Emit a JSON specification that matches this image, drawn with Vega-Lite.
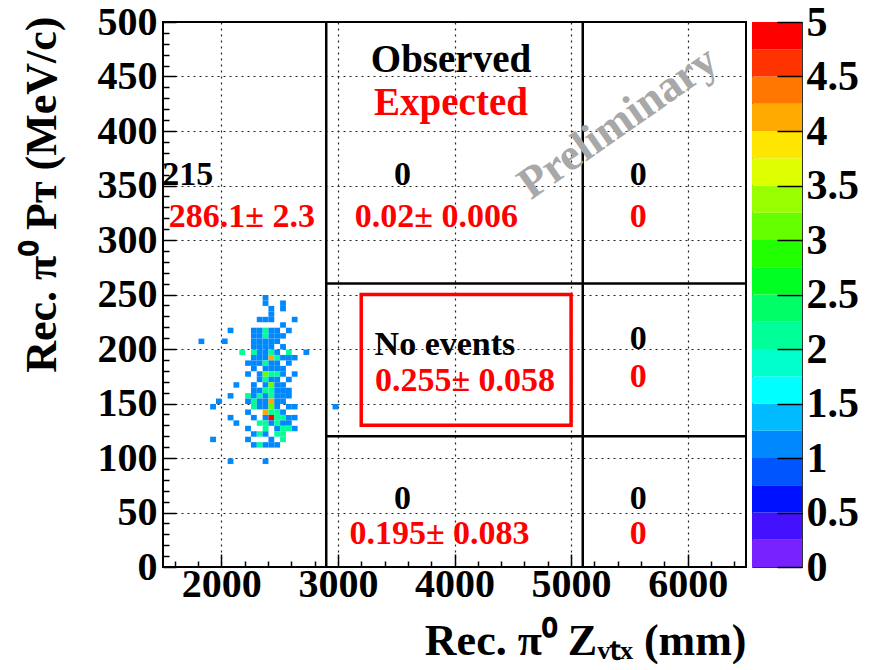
{
  "$schema": "https://vega.github.io/schema/vega-lite/v6.json",
  "padding": {"left": 18, "top": 0, "right": 5, "bottom": 0},
  "spacing": 2,
  "background": "white",
  "config": {
    "font": "Liberation Serif",
    "view": {"stroke": null},
    "axis": {
      "labelFont": "Liberation Serif",
      "labelFontWeight": "bold",
      "labelColor": "black",
      "titleFont": "Liberation Serif",
      "titleFontWeight": "bold",
      "titleColor": "black",
      "domainColor": "black",
      "tickColor": "#000000",
      "tickOpacity": 1,
      "labelOverlap": false,
      "labelFlush": false
    }
  },
  "datasets": {
    "cells": [
      {"x":2350,"y":245,"n":1},
      {"x":2350,"y":240,"n":1},{"x":2500,"y":240,"n":1},
      {"x":2400,"y":235,"n":1},{"x":2500,"y":235,"n":1},
      {"x":2400,"y":230,"n":1},
      {"x":2300,"y":225,"n":1},{"x":2350,"y":225,"n":1},{"x":2400,"y":225,"n":1},{"x":2600,"y":225,"n":1},
      {"x":2500,"y":220,"n":1},
      {"x":2050,"y":215,"n":1},{"x":2250,"y":215,"n":1},{"x":2300,"y":215,"n":1},{"x":2350,"y":215,"n":2},{"x":2400,"y":215,"n":1},{"x":2450,"y":215,"n":1},{"x":2550,"y":215,"n":1},
      {"x":2250,"y":210,"n":1},{"x":2300,"y":210,"n":1},{"x":2350,"y":210,"n":2},{"x":2400,"y":210,"n":1},{"x":2450,"y":210,"n":1},{"x":2500,"y":210,"n":1},
      {"x":1800,"y":205,"n":1},{"x":2000,"y":205,"n":1},{"x":2250,"y":205,"n":1},{"x":2300,"y":205,"n":1},{"x":2350,"y":205,"n":1},{"x":2400,"y":205,"n":1},{"x":2450,"y":205,"n":1},
      {"x":2250,"y":200,"n":1},{"x":2300,"y":200,"n":1},{"x":2350,"y":200,"n":1},{"x":2400,"y":200,"n":1},{"x":2500,"y":200,"n":1},
      {"x":2150,"y":195,"n":2},{"x":2250,"y":195,"n":2},{"x":2300,"y":195,"n":1},{"x":2350,"y":195,"n":1},{"x":2400,"y":195,"n":2},{"x":2450,"y":195,"n":1},{"x":2550,"y":195,"n":2},{"x":2700,"y":195,"n":1},
      {"x":2250,"y":190,"n":1},{"x":2300,"y":190,"n":1},{"x":2350,"y":190,"n":1},{"x":2400,"y":190,"n":4},{"x":2450,"y":190,"n":2},{"x":2500,"y":190,"n":1},{"x":2550,"y":190,"n":1},{"x":2600,"y":190,"n":1},
      {"x":2200,"y":185,"n":1},{"x":2250,"y":185,"n":1},{"x":2300,"y":185,"n":1},{"x":2350,"y":185,"n":2},{"x":2400,"y":185,"n":1},{"x":2450,"y":185,"n":1},{"x":2550,"y":185,"n":1},
      {"x":2250,"y":180,"n":1},{"x":2350,"y":180,"n":1},{"x":2400,"y":180,"n":1},{"x":2450,"y":180,"n":1},{"x":2500,"y":180,"n":1},
      {"x":2200,"y":175,"n":1},{"x":2300,"y":175,"n":1},{"x":2350,"y":175,"n":3},{"x":2400,"y":175,"n":2},{"x":2450,"y":175,"n":2},{"x":2500,"y":175,"n":1},{"x":2600,"y":175,"n":1},
      {"x":2300,"y":170,"n":1},{"x":2350,"y":170,"n":2},{"x":2400,"y":170,"n":1},{"x":2450,"y":170,"n":1},{"x":2550,"y":170,"n":1},
      {"x":2100,"y":165,"n":1},{"x":2250,"y":165,"n":1},{"x":2350,"y":165,"n":1},{"x":2400,"y":165,"n":3},{"x":2450,"y":165,"n":1},{"x":2500,"y":165,"n":1},
      {"x":2250,"y":160,"n":1},{"x":2300,"y":160,"n":1},{"x":2350,"y":160,"n":2},{"x":2400,"y":160,"n":2},{"x":2450,"y":160,"n":1},{"x":2500,"y":160,"n":1},{"x":2550,"y":160,"n":1},
      {"x":2050,"y":155,"n":1},{"x":2200,"y":155,"n":2},{"x":2250,"y":155,"n":1},{"x":2300,"y":155,"n":2},{"x":2350,"y":155,"n":1},{"x":2400,"y":155,"n":2},{"x":2450,"y":155,"n":1},{"x":2500,"y":155,"n":1},{"x":2550,"y":155,"n":1},
      {"x":1950,"y":150,"n":1},{"x":2200,"y":150,"n":1},{"x":2250,"y":150,"n":2},{"x":2300,"y":150,"n":1},{"x":2350,"y":150,"n":1},{"x":2400,"y":150,"n":4},{"x":2450,"y":150,"n":1},{"x":2500,"y":150,"n":1},
      {"x":1900,"y":145,"n":1},{"x":2250,"y":145,"n":2},{"x":2300,"y":145,"n":1},{"x":2350,"y":145,"n":1},{"x":2400,"y":145,"n":3},{"x":2450,"y":145,"n":1},{"x":2550,"y":145,"n":1},{"x":2600,"y":145,"n":1},{"x":2950,"y":145,"n":1},
      {"x":2200,"y":140,"n":1},{"x":2350,"y":140,"n":4},{"x":2400,"y":140,"n":2},{"x":2450,"y":140,"n":2},{"x":2500,"y":140,"n":1},
      {"x":2050,"y":135,"n":1},{"x":2250,"y":135,"n":1},{"x":2350,"y":135,"n":1},{"x":2400,"y":135,"n":5},{"x":2450,"y":135,"n":2},{"x":2500,"y":135,"n":2},{"x":2550,"y":135,"n":1},{"x":2600,"y":135,"n":1},
      {"x":2100,"y":130,"n":1},{"x":2300,"y":130,"n":2},{"x":2350,"y":130,"n":2},{"x":2400,"y":130,"n":1},{"x":2450,"y":130,"n":2},{"x":2500,"y":130,"n":1},{"x":2550,"y":130,"n":1},
      {"x":2200,"y":125,"n":1},{"x":2350,"y":125,"n":2},{"x":2450,"y":125,"n":1},{"x":2500,"y":125,"n":2},{"x":2550,"y":125,"n":2},{"x":2600,"y":125,"n":1},
      {"x":2250,"y":120,"n":1},{"x":2300,"y":120,"n":2},{"x":2350,"y":120,"n":1},{"x":2450,"y":120,"n":2},{"x":2500,"y":120,"n":2},
      {"x":1900,"y":115,"n":1},{"x":2200,"y":115,"n":1},{"x":2400,"y":115,"n":1},{"x":2500,"y":115,"n":2},
      {"x":2250,"y":110,"n":1},{"x":2300,"y":110,"n":2},{"x":2350,"y":110,"n":1},{"x":2400,"y":110,"n":1},{"x":2450,"y":110,"n":1},
      {"x":2050,"y":95,"n":1},{"x":2350,"y":95,"n":1}
    ],
    "lines": [
      {"x":2900,"x2":2900,"y":0,"y2":500},
      {"x":5100,"x2":5100,"y":0,"y2":500},
      {"x":2900,"x2":6500,"y":260,"y2":260},
      {"x":2900,"x2":6500,"y":120,"y2":120}
    ],
    "box": [{"x":3200,"x2":5000,"y":130,"y2":250}],
    "headers": [
      {"x":3970,"y":465,"text":"Observed","kind":"obs"},
      {"x":3970,"y":426,"text":"Expected","kind":"exp"}
    ],
    "numbers": [
      {"x":1712,"y":360,"text":"215","kind":"obs"},
      {"x":2176,"y":321,"text":"286.1± 2.3","kind":"exp"},
      {"x":3553,"y":360,"text":"0","kind":"obs"},
      {"x":3845,"y":321,"text":"0.02± 0.006","kind":"exp"},
      {"x":5575,"y":360,"text":"0","kind":"obs"},
      {"x":5575,"y":321,"text":"0","kind":"exp"},
      {"x":3918,"y":204,"text":"No events","kind":"obs"},
      {"x":4090,"y":171,"text":"0.255± 0.058","kind":"exp"},
      {"x":5575,"y":209,"text":"0","kind":"obs"},
      {"x":5575,"y":174,"text":"0","kind":"exp"},
      {"x":3553,"y":62,"text":"0","kind":"obs"},
      {"x":3871,"y":30,"text":"0.195± 0.083","kind":"exp"},
      {"x":5575,"y":62,"text":"0","kind":"obs"},
      {"x":5575,"y":30,"text":"0","kind":"exp"}
    ],
    "watermark": [{"x":5400,"y":408,"text":"Preliminary"}],
    "bar": [
      {"lo":0,"hi":0.25},{"lo":0.25,"hi":0.5},{"lo":0.5,"hi":0.75},{"lo":0.75,"hi":1},
      {"lo":1,"hi":1.25},{"lo":1.25,"hi":1.5},{"lo":1.5,"hi":1.75},{"lo":1.75,"hi":2},
      {"lo":2,"hi":2.25},{"lo":2.25,"hi":2.5},{"lo":2.5,"hi":2.75},{"lo":2.75,"hi":3},
      {"lo":3,"hi":3.25},{"lo":3.25,"hi":3.5},{"lo":3.5,"hi":3.75},{"lo":3.75,"hi":4},
      {"lo":4,"hi":4.25},{"lo":4.25,"hi":4.5},{"lo":4.5,"hi":4.75},{"lo":4.75,"hi":5}
    ]
  },
  "hconcat": [
    {
      "width": 583,
      "height": 545,
      "view": {"stroke": "black", "strokeWidth": 2},
      "resolve": {"axis": {"x": "independent", "y": "independent"}},
      "layer": [
        {
          "data": {"name": "cells"},
          "mark": {"type": "rect"},
          "encoding": {
            "x": {
              "field": "x", "type": "quantitative", "bin": {"binned": true, "step": 50},
              "scale": {"domain": [1500, 6500], "nice": false, "zero": false},
              "axis": {
                "orient": "bottom",
                "zindex": 0,
                "values": [2000, 3000, 4000, 5000, 6000],
                "ticks": false, "labels": false, "domain": false, "title": null,
                "grid": true,
                "gridDash": [2, 4],
                "gridColor": "#222222",
                "gridWidth": 1.2
              }
            },
            "y": {
              "field": "y", "type": "quantitative", "bin": {"binned": true, "step": 5},
              "scale": {"domain": [0, 500], "nice": false, "zero": false},
              "axis": {
                "orient": "left",
                "zindex": 0,
                "values": [50, 100, 150, 200, 250, 300, 350, 400, 450],
                "ticks": false, "labels": false, "domain": false, "title": null,
                "grid": true,
                "gridDash": [2, 4],
                "gridColor": "#222222",
                "gridWidth": 1.2
              }
            },
            "color": {
              "field": "n", "type": "quantitative",
              "scale": {"type": "quantize", "domain": [0, 5], "nice": false, "zero": false,
                "range": ["#7722ff","#4411ff","#0011ff","#0055ff","#0088ff","#00bbff","#00ffff","#00ffcc","#00ff99","#00ff66","#00ff22","#22ff00","#66ff00","#99ff00","#ddff00","#ffe600","#ffaa00","#ff7700","#ff3300","#ff0000"]},
              "legend": null
            }
          }
        },
        {
          "data": {"name": "lines"},
          "mark": {"type": "rule", "color": "black", "strokeWidth": 2.5},
          "encoding": {
            "x": {
              "field": "x", "type": "quantitative",
              "axis": {
                "orient": "bottom",
                "zindex": 1,
                "offset": -13,
                "values": [2000, 3000, 4000, 5000, 6000],
                "format": "d",
                "ticks": true,
                "tickSize": 13,
                "tickWidth": 1.5,
                "tickColor": "#000000",
                "labelPadding": -3,
                "labelFontSize": 40,
                "domain": false,
                "grid": false,
                "title": "Rec.  π⁰ Zᵥₜₓ (mm)",
                "titleFontSize": 44,
                "titleAnchor": "end",
                "titleAlign": "right",
                "titleBaseline": "middle",
                "titleX": 583,
                "titleY": 87
              }
            },
            "x2": {"field": "x2"},
            "y": {
              "field": "y", "type": "quantitative",
              "axis": {
                "orient": "left",
                "zindex": 1,
                "offset": -13,
                "values": [0, 50, 100, 150, 200, 250, 300, 350, 400, 450, 500],
                "format": "d",
                "ticks": true,
                "tickSize": 13,
                "tickWidth": 1.5,
                "tickColor": "#000000",
                "labelPadding": 6,
                "labelFontSize": 40,
                "labelBaseline": "middle",
                "domain": false,
                "grid": false,
                "title": "Rec.  π⁰ Pᴛ (MeV/c)",
                "titleFontSize": 44,
                "titleAngle": -90,
                "titleAnchor": "end",
                "titleAlign": "right",
                "titleBaseline": "middle",
                "titleX": -134,
                "titleY": -6
              }
            },
            "y2": {"field": "y2"}
          }
        },
        {
          "data": {"name": "box"},
          "mark": {"type": "rect", "fill": null, "fillOpacity": 0, "stroke": "#ff0000", "strokeWidth": 3.5},
          "encoding": {
            "x": {
              "field": "x", "type": "quantitative",
              "axis": {
                "orient": "bottom",
                "zindex": 1,
                "offset": -6,
                "values": [1600,1800,2200,2400,2600,2800,3200,3400,3600,3800,4200,4400,4600,4800,5200,5400,5600,5800,6200,6400],
                "ticks": true,
                "tickSize": 6,
                "tickWidth": 1.5,
                "tickColor": "#000000",
                "labels": false, "domain": false, "grid": false, "title": null
              }
            },
            "x2": {"field": "x2"},
            "y": {
              "field": "y", "type": "quantitative",
              "axis": {
                "orient": "left",
                "zindex": 1,
                "offset": -6,
                "values": [10,20,30,40,60,70,80,90,110,120,130,140,160,170,180,190,210,220,230,240,260,270,280,290,310,320,330,340,360,370,380,390,410,420,430,440,460,470,480,490],
                "ticks": true,
                "tickSize": 6,
                "tickWidth": 1.5,
                "tickColor": "#000000",
                "labels": false, "domain": false, "grid": false, "title": null
              }
            },
            "y2": {"field": "y2"}
          }
        },
        {
          "data": {"name": "headers"},
          "transform": [{"filter": "datum.kind === 'obs'"}],
          "mark": {"type": "text", "font": "Liberation Serif", "fontWeight": "bold", "fontSize": 39, "color": "black", "align": "center", "baseline": "middle"},
          "encoding": {
            "x": {"field": "x", "type": "quantitative", "axis": null},
            "y": {"field": "y", "type": "quantitative", "axis": null},
            "text": {"field": "text"}
          }
        },
        {
          "data": {"name": "headers"},
          "transform": [{"filter": "datum.kind === 'exp'"}],
          "mark": {"type": "text", "font": "Liberation Serif", "fontWeight": "bold", "fontSize": 39, "color": "#ff0000", "align": "center", "baseline": "middle"},
          "encoding": {
            "x": {"field": "x", "type": "quantitative", "axis": null},
            "y": {"field": "y", "type": "quantitative", "axis": null},
            "text": {"field": "text"}
          }
        },
        {
          "data": {"name": "numbers"},
          "transform": [{"filter": "datum.kind === 'obs'"}],
          "mark": {"type": "text", "font": "Liberation Serif", "fontWeight": "bold", "fontSize": 34, "color": "black", "align": "center", "baseline": "middle"},
          "encoding": {
            "x": {"field": "x", "type": "quantitative", "axis": null},
            "y": {"field": "y", "type": "quantitative", "axis": null},
            "text": {"field": "text"}
          }
        },
        {
          "data": {"name": "numbers"},
          "transform": [{"filter": "datum.kind === 'exp'"}],
          "mark": {"type": "text", "font": "Liberation Serif", "fontWeight": "bold", "fontSize": 34, "color": "#ff0000", "align": "center", "baseline": "middle"},
          "encoding": {
            "x": {"field": "x", "type": "quantitative", "axis": null},
            "y": {"field": "y", "type": "quantitative", "axis": null},
            "text": {"field": "text"}
          }
        },
        {
          "data": {"name": "watermark"},
          "mark": {"type": "text", "font": "Liberation Serif", "fontWeight": "bold", "fontSize": 45, "color": "#a8a8a8", "align": "center", "baseline": "middle", "angle": -35},
          "encoding": {
            "x": {"field": "x", "type": "quantitative", "axis": null},
            "y": {"field": "y", "type": "quantitative", "axis": null},
            "text": {"field": "text"}
          }
        }
      ]
    },
    {
      "width": 50,
      "height": 545,
      "view": {"stroke": "#333333", "strokeWidth": 1},
      "data": {"name": "bar"},
      "mark": {"type": "rect"},
      "encoding": {
        "y": {
          "field": "lo", "type": "quantitative",
          "scale": {"domain": [0, 5], "nice": false, "zero": false},
          "axis": {
            "orient": "right",
            "zindex": 1,
            "offset": -25,
            "values": [0, 0.5, 1, 1.5, 2, 2.5, 3, 3.5, 4, 4.5, 5],
            "format": "~g",
            "title": null,
            "domain": false,
            "grid": false,
            "ticks": true,
            "tickSize": 25,
            "tickWidth": 1.5,
            "tickColor": "#000000",
            "labelPadding": 4,
            "labelFontSize": 42,
            "labelBaseline": "middle"
          }
        },
        "y2": {"field": "hi"},
        "color": {
          "field": "lo", "type": "quantitative",
          "scale": {"type": "quantize", "domain": [0, 5], "nice": false, "zero": false,
            "range": ["#7722ff","#4411ff","#0011ff","#0055ff","#0088ff","#00bbff","#00ffff","#00ffcc","#00ff99","#00ff66","#00ff22","#22ff00","#66ff00","#99ff00","#ddff00","#ffe600","#ffaa00","#ff7700","#ff3300","#ff0000"]},
          "legend": null
        }
      }
    }
  ]
}
